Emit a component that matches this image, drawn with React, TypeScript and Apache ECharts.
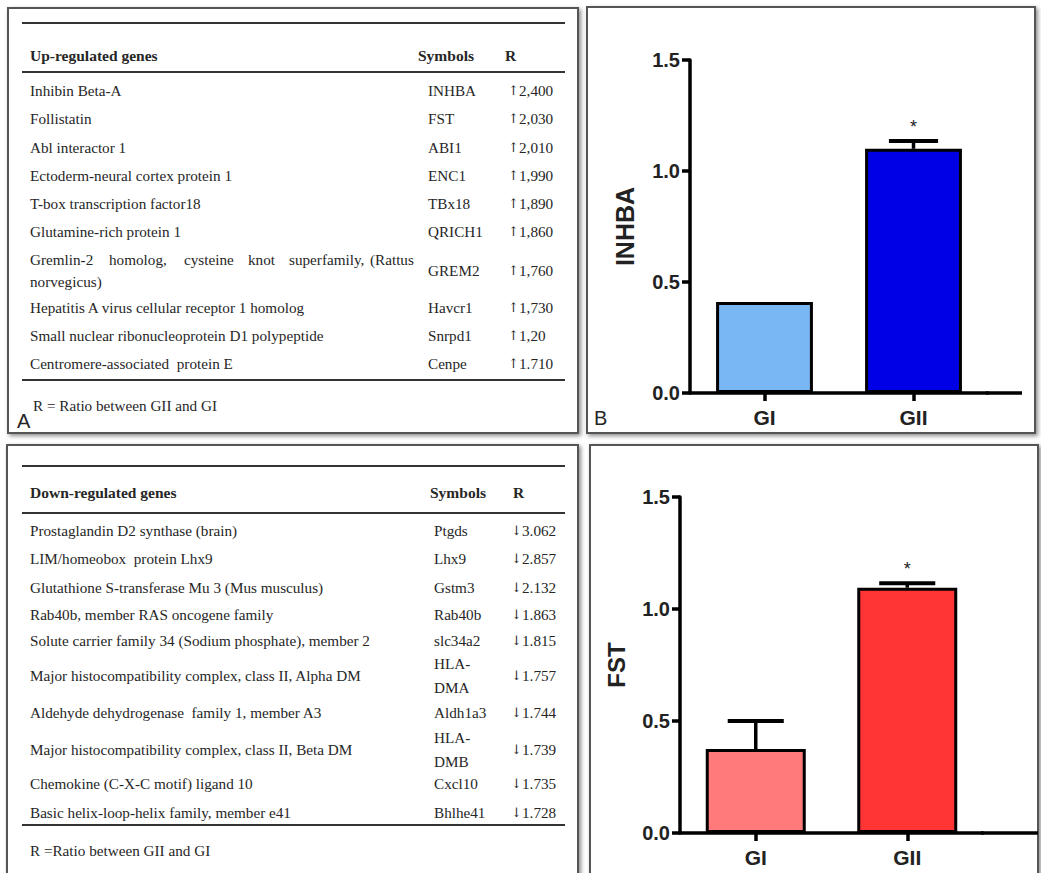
import React, { useEffect, useRef } from 'react';
import * as echarts from 'echarts';

// ---------- DATA ----------
const upGenes = [
  'Inhibin Beta-A',
  'Follistatin',
  'Abl interactor 1',
  'Ectoderm-neural cortex protein 1',
  'T-box transcription factor18',
  'Glutamine-rich protein 1',
  'Gremlin-2 homolog, cysteine knot superfamily, (Rattus\nnorvegicus)',
  'Hepatitis A virus cellular receptor 1 homolog',
  'Small nuclear ribonucleoprotein D1 polypeptide',
  'Centromere-associated  protein E',
];
const upSymbols = ['INHBA', 'FST', 'ABI1', 'ENC1', 'TBx18', 'QRICH1', 'GREM2', 'Havcr1', 'Snrpd1', 'Cenpe'];
const upRatios = ['↑ 2,400', '↑ 2,030', '↑ 2,010', '↑ 1,990', '↑ 1,890', '↑ 1,860', '↑ 1,760', '↑ 1,730', '↑ 1,20', '↑ 1.710'];

const downGenes = [
  'Prostaglandin D2 synthase (brain)',
  'LIM/homeobox  protein Lhx9',
  'Glutathione S-transferase Mu 3 (Mus musculus)',
  'Rab40b, member RAS oncogene family',
  'Solute carrier family 34 (Sodium phosphate), member 2',
  'Major histocompatibility complex, class II, Alpha DM',
  'Aldehyde dehydrogenase  family 1, member A3',
  'Major histocompatibility complex, class II, Beta DM',
  'Chemokine (C-X-C motif) ligand 10',
  'Basic helix-loop-helix family, member e41',
];
const downSymbols = ['Ptgds', 'Lhx9', 'Gstm3', 'Rab40b', 'slc34a2', 'HLA-\nDMA', 'Aldh1a3', 'HLA-\nDMB', 'Cxcl10', 'Bhlhe41'];
const downRatios = ['↓ 3.062', '↓ 2.857', '↓ 2.132', '↓ 1.863', '↓ 1.815', '↓ 1.757', '↓ 1.744', '↓ 1.739', '↓ 1.735', '↓ 1.728'];

const upTitle = 'Up-regulated genes';
const downTitle = 'Down-regulated genes';
const symbolsTitle = 'Symbols';
const ratioTitle = 'R';
const upNote = 'R = Ratio between GII and GI';
const downNote = 'R =Ratio between GII and GI';

const groups = ['GI', 'GII'];
const inhbaMean = [0.41, 1.1];
const inhbaSem = [0, 0.035];
const inhbaSig = ['', '*'];
const fstMean = [0.375, 1.095];
const fstSem = [0.125, 0.02];
const fstSig = ['', '*'];
const yTickValues = { min: 0, max: 1.5, interval: 0.5 };

// ---------- STYLE / LAYOUT ----------
const inhbaColors = ['#78b6f4', '#0000e6'];
const fstColors = ['#ff7a7a', '#ff3434'];
const SERIF = '"Liberation Serif", "DejaVu Serif", "Times New Roman", serif';
const ARROW_SERIF = '"DejaVu Serif", "Liberation Serif", serif';
const SANS = '"Liberation Sans", Arial, sans-serif';
const TEXT = '#262626';
const TABLE_SIZE = 15.2;

const upRowY = [90, 118, 147, 175, 203, 231, 270, 307, 335, 363];
const downRowY = [530, 558, 587, 614, 640, 675, 712, 749, 783, 812];
const gremlinWordX = [30, 109, 184, 248, 289, 370];

function txt(text: string, x: number, y: number, o: any = {}) {
  const align = o.align || 'left';
  const va = o.va || 'middle';
  return {
    type: 'text',
    z: 10,
    x,
    y,
    style: {
      text,
      fill: o.fill || TEXT,
      fontSize: o.size || TABLE_SIZE,
      fontFamily: o.family || SERIF,
      fontWeight: o.weight || 'normal',
      align,
      verticalAlign: va,
      textAlign: align,
      textVerticalAlign: va,
      lineHeight: o.lh || undefined,
    },
  };
}

function panel(x: number, y: number, w: number, h: number) {
  return {
    type: 'rect',
    z: -5,
    shape: { x, y, width: w, height: h },
    style: {
      fill: '#fff',
      stroke: '#555',
      lineWidth: 2,
      shadowBlur: 4,
      shadowOffsetX: 2,
      shadowOffsetY: 2,
      shadowColor: 'rgba(0,0,0,0.45)',
    },
  };
}

function rule(x1: number, x2: number, y: number) {
  return { type: 'line', z: 10, shape: { x1, y1: y, x2, y2: y }, style: { stroke: '#333', lineWidth: 2 } };
}

function ratioText(r: string, x: number, y: number) {
  // arrow glyph + number
  const arrow = r.slice(0, 1);
  const num = r.slice(2);
  return [
    txt(arrow, x, y, { family: ARROW_SERIF, size: 13 }),
    txt(num, x + 11, y),
  ];
}

function tableGraphics(
  genes: string[], symbols: string[], ratios: string[], rowY: number[],
  symX: number, rX: number,
) {
  const out: any[] = [];
  genes.forEach((g, i) => {
    const y = rowY[i];
    if (g.includes('\n')) {
      const [l1, l2] = g.split('\n');
      const words = l1.split(' ');
      words.forEach((w, k) => out.push(txt(w, gremlinWordX[k], y - 11)));
      out.push(txt(l2, 30, y + 11));
    } else {
      out.push(txt(g, 30, y));
    }
    out.push(txt(symbols[i], symX, y, { lh: 24 }));
    out.push(...ratioText(ratios[i], rX, y));
  });
  return out;
}

function errRender(means: number[], sems: number[], sig: string[], capFrac: number) {
  return (params: any, api: any) => {
    const xi = api.value(0);
    const m = api.value(1);
    const e = api.value(2);
    const base = api.coord([xi, m]);
    const top = api.coord([xi, m + e]);
    const band = api.size([1, 0])[0];
    const half = (band * capFrac) / 2;
    const children: any[] = [];
    if (e > 0) {
      children.push({
        type: 'line',
        shape: { x1: base[0], y1: base[1], x2: top[0], y2: top[1] },
        style: { stroke: '#000', lineWidth: 3.5 },
      });
      children.push({
        type: 'line',
        shape: { x1: top[0] - half, y1: top[1], x2: top[0] + half, y2: top[1] },
        style: { stroke: '#000', lineWidth: 4 },
      });
    }
    const s = sig[params.dataIndex];
    if (s) {
      children.push({
        type: 'text',
        x: top[0],
        y: top[1] - 5,
        style: {
          text: s, fill: '#222', fontSize: 18, fontFamily: SANS,
          align: 'center', verticalAlign: 'bottom', textAlign: 'center', textVerticalAlign: 'bottom',
        },
      });
    }
    return { type: 'group', children };
  };
}

function axisPair(gridIndex: number, name: string, nameGap: number, nameSize: number) {
  const line = { color: '#000', width: 3.5 };
  const x = {
    type: 'category',
    gridIndex,
    data: groups,
    axisLine: { show: true, lineStyle: line },
    axisTick: { show: true, alignWithLabel: true, length: 8, lineStyle: line },
    axisLabel: { margin: 14, fontSize: 21, fontWeight: 'bold', color: '#222', fontFamily: SANS },
  };
  const y = {
    type: 'value',
    gridIndex,
    min: yTickValues.min,
    max: yTickValues.max,
    interval: yTickValues.interval,
    name,
    nameLocation: 'middle',
    nameGap,
    nameTextStyle: { fontSize: nameSize, fontWeight: 'bold', fontFamily: SANS, color: '#222' },
    axisLine: { show: true, lineStyle: line },
    axisTick: { show: true, length: 8, lineStyle: line },
    axisLabel: {
      margin: 10, fontSize: 20, fontWeight: 'bold', color: '#222', fontFamily: SANS,
      formatter: (v: number) => v.toFixed(1),
    },
    splitLine: { show: false },
  };
  return { x, y };
}

export default function App() {
  const ref = useRef<HTMLDivElement>(null);
  useEffect(() => {
    document.body.style.margin = '0';
    if (!ref.current) return;
    const chart = echarts.init(ref.current, undefined, { renderer: 'svg' });
    const a0 = axisPair(0, 'INHBA', 53, 25);
    const a1 = axisPair(1, 'FST', 52, 24);

    const graphic: any[] = [
      panel(8, 8, 570, 425),
      panel(587, 7, 448, 426),
      panel(7, 445, 571, 440),
      panel(590, 445, 448, 440),
      // table A
      rule(22, 565, 23),
      txt(upTitle, 30, 55, { weight: 'bold', size: 15.5 }),
      txt(symbolsTitle, 418, 55, { weight: 'bold', size: 15.5 }),
      txt(ratioTitle, 505, 55, { weight: 'bold', size: 15.5 }),
      rule(22, 565, 72),
      ...tableGraphics(upGenes, upSymbols, upRatios, upRowY, 428, 508),
      rule(22, 565, 380),
      txt(upNote, 33, 405),
      txt('A', 17, 421, { family: SANS, size: 20 }),
      // table C
      rule(22, 565, 466),
      txt(downTitle, 30, 492, { weight: 'bold', size: 15.5 }),
      txt(symbolsTitle, 430, 492, { weight: 'bold', size: 15.5 }),
      txt(ratioTitle, 513, 492, { weight: 'bold', size: 15.5 }),
      rule(22, 565, 513),
      ...tableGraphics(downGenes, downSymbols, downRatios, downRowY, 434, 511),
      rule(22, 565, 825),
      txt(downNote, 30, 850),
      // panel B label
      txt('B', 594, 418, { family: SANS, size: 20 }),
      // x-axis extensions
      { type: 'line', z: 10, shape: { x1: 986, y1: 393, x2: 1022, y2: 393 }, style: { stroke: '#000', lineWidth: 3.5 } },
      { type: 'line', z: 10, shape: { x1: 981, y1: 833, x2: 1038, y2: 833 }, style: { stroke: '#000', lineWidth: 3.5 } },
    ];

    chart.setOption({
      animation: false,
      backgroundColor: '#ffffff',
      grid: [
        { left: 690, top: 60, width: 298, height: 333 },
        { left: 680, top: 497, width: 303, height: 336 },
      ],
      xAxis: [a0.x, a1.x],
      yAxis: [a0.y, a1.y],
      series: [
        {
          type: 'bar',
          xAxisIndex: 0,
          yAxisIndex: 0,
          barWidth: '65%',
          itemStyle: { borderColor: '#000', borderWidth: 3 },
          data: inhbaMean.map((v, i) => ({ value: v, itemStyle: { color: inhbaColors[i] } })),
        },
        {
          type: 'custom',
          xAxisIndex: 0,
          yAxisIndex: 0,
          z: 5,
          renderItem: errRender(inhbaMean, inhbaSem, inhbaSig, 0.33),
          data: groups.map((g, i) => [i, inhbaMean[i], inhbaSem[i]]),
        },
        {
          type: 'bar',
          xAxisIndex: 1,
          yAxisIndex: 1,
          barWidth: '66%',
          itemStyle: { borderColor: '#000', borderWidth: 3 },
          data: fstMean.map((v, i) => ({ value: v, itemStyle: { color: fstColors[i] } })),
        },
        {
          type: 'custom',
          xAxisIndex: 1,
          yAxisIndex: 1,
          z: 5,
          renderItem: errRender(fstMean, fstSem, fstSig, 0.37),
          data: groups.map((g, i) => [i, fstMean[i], fstSem[i]]),
        },
      ],
      graphic,
    });
    return () => chart.dispose();
  }, []);
  return <div ref={ref} style={{ position: 'fixed', left: 0, top: 0, width: 1041, height: 873 }} />;
}
